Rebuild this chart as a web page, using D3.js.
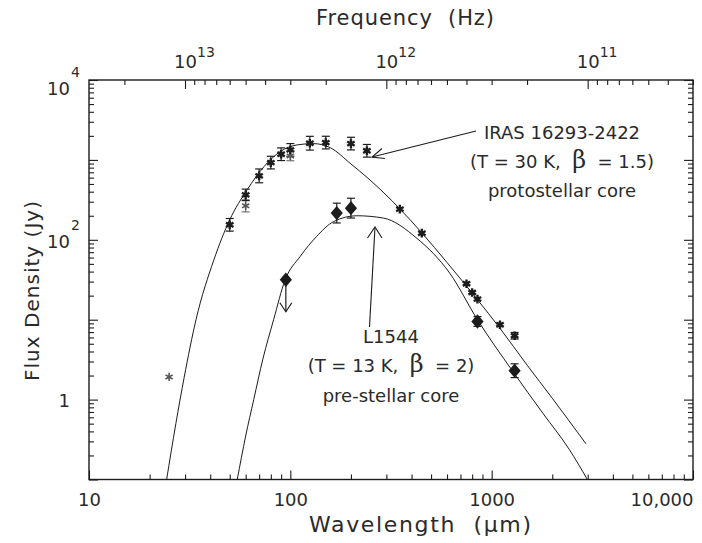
<!DOCTYPE html>
<html><head><meta charset="utf-8">
<script src="https://cdn.jsdelivr.net/npm/d3@7"></script>
<style>body{margin:0;background:#fff}</style>
</head><body>
<svg id="chart" width="702" height="543"></svg>
<script>
// ---------------- data ----------------
const irasWavelengths = [50, 60, 70, 80, 90, 100, 125, 150, 200, 240, 350, 450, 750, 800, 850, 1100, 1300];
const irasFlux        = [154, 365, 631, 925, 1178, 1334, 1617, 1647, 1600, 1300, 242, 121, 28.2, 21.9, 18.1, 8.66, 6.3];
const irasErrFactor   = [1.2, 1.18, 1.22, 1.2, 1.2, 1.2, 1.22, 1.2, 1.2, 1.2, 1, 1, 1, 1, 1, 1, 1.1];
const irasOpenWavelengths = [25, 60, 100];
const irasOpenFlux        = [1.92, 266, 1122];
const irasOpenErrFactor   = [1, 1.19, 1.15];
const l1544Wavelengths = [170, 200, 850, 1300];
const l1544Flux        = [216, 249, 9.5, 2.3];
const l1544ErrFactor   = [1.33, 1.33, 1.15, 1.22];
const l1544LimitWavelengths = [95];
const l1544LimitFlux        = [31.6];
const irasModelWavelengths = [24.3, 27, 29.7, 34, 41.7, 50, 61, 74, 89, 108, 130, 158, 200, 243, 350, 450, 600, 850, 1100, 1500, 2000, 2940];
const irasModelFlux        = [0.1, 0.5, 1.9, 10, 56, 178, 422, 824, 1270, 1540, 1600, 1420, 890, 590, 244, 122, 52, 17.8, 7.8, 2.7, 1.04, 0.28];
const l1544ModelWavelengths = [54.5, 60, 65.8, 73, 82.6, 94, 112, 135, 164, 214, 290, 424, 620, 850, 1266, 1800, 2431, 2988];
const l1544ModelFlux        = [0.1, 0.35, 1, 3.2, 10, 31, 62, 110, 169, 200, 187, 105, 38, 10, 2.3, 0.67, 0.237, 0.1];
const xTickValues = [10, 100, 1000, 10000];
const xTickLabels = ["10", "100", "1000", "10,000"];
const yTickValues = [1e4, 1e2, 1];
const yTickBase   = ["10", "10", "1"];
const yTickExp    = ["4", "2", ""];
const freqTickValues = [1e13, 1e12, 1e11];
const freqTickExp    = ["13", "12", "11"];

// ---------------- layout ----------------
const svg = d3.select("#chart");
const L = 89, R = 693, T = 80, B = 479.5;
const FONT = "DejaVu Sans";
const INK = "#1c1c1c";
const TXT = "#2a2a2a";
const C_UM = 2.998e14; // speed of light in micron/s
const SP = "\u00a0";

const x = d3.scaleLog().domain([10, 10000]).range([L, R]);
const y = d3.scaleLog().domain([0.1, 1e4]).range([B, T]);
const xf = d3.scaleLog().domain([C_UM / 10, C_UM / 10000]).range([L, R]);

function minors(lo, hi, nlo, nhi) {
  const out = [];
  for (let n = nlo; n <= nhi; n++) for (let k = 2; k <= 9; k++) {
    const v = k * Math.pow(10, n);
    if (v > lo * 1.0001 && v < hi * 0.9999) out.push(v);
  }
  return out;
}
function decades(nlo, nhi) { const o = []; for (let n = nlo; n <= nhi; n++) o.push(Math.pow(10, n)); return o; }

const defs = svg.append("defs");
defs.append("clipPath").attr("id", "plotclip").append("rect")
  .attr("x", L).attr("y", T).attr("width", R - L).attr("height", B - T);

function styleAxis(g) {
  g.select(".domain").remove();
  g.selectAll(".tick line").attr("stroke", INK).attr("stroke-width", 1.1);
  g.selectAll("text").attr("font-family", FONT).attr("fill", TXT).attr("font-size", 18);
}

// bottom axis
svg.append("g").attr("transform", `translate(0,${B})`)
  .call(d3.axisBottom(x).tickValues(minors(10, 10000, 1, 3)).tickSize(-5).tickFormat(""))
  .call(styleAxis);
const bAx = svg.append("g").attr("transform", `translate(0,${B})`)
  .call(d3.axisBottom(x).tickValues(xTickValues).tickSize(-9).tickPadding(14)
    .tickFormat((d, i) => xTickLabels[i]))
  .call(styleAxis);
bAx.selectAll(".tick text").filter((d, i) => i === xTickValues.length - 1).attr("text-anchor", "end");

// top axis (frequency)
svg.append("g").attr("transform", `translate(0,${T})`)
  .call(d3.axisTop(xf).tickValues(minors(C_UM / 10000, C_UM / 10, 10, 13)).tickSize(-5).tickFormat(""))
  .call(styleAxis);
const tAx = svg.append("g").attr("transform", `translate(0,${T})`)
  .call(d3.axisTop(xf).tickValues(freqTickValues).tickSize(-9).tickPadding(12).tickFormat(() => "10"))
  .call(styleAxis);
tAx.selectAll(".tick").each(function (d, i) {
  d3.select(this).append("text").text(freqTickExp[i])
    .attr("x", 11.5).attr("y", -23).attr("font-family", FONT).attr("font-size", 14)
    .attr("fill", TXT).attr("text-anchor", "start");
});

// left axis
svg.append("g").attr("transform", `translate(${L},0)`)
  .call(d3.axisLeft(y).tickValues(minors(0.1, 1e4, -1, 3)).tickSize(-5).tickFormat(""))
  .call(styleAxis);
svg.append("g").attr("transform", `translate(${L},0)`)
  .call(d3.axisLeft(y).tickValues(decades(-1, 4)).tickSize(-9).tickFormat(""))
  .call(styleAxis);
const lAx = svg.append("g").attr("transform", `translate(${L},0)`)
  .call(d3.axisLeft(y).tickValues(yTickValues).tickSize(0).tickPadding(19).tickFormat((d, i) => yTickBase[i]))
  .call(styleAxis);
lAx.selectAll(".tick").each(function (d, i) {
  const t = d3.select(this).select("text").attr("dy", "0.4em");
  if (i === 0) t.attr("dy", "0.83em");
  if (yTickExp[i]) {
    d3.select(this).append("text").text(yTickExp[i])
      .attr("x", -18).attr("y", i === 0 ? -4 : -10).attr("font-family", FONT).attr("font-size", 14)
      .attr("fill", TXT).attr("text-anchor", "start");
  }
});

// right axis
svg.append("g").attr("transform", `translate(${R},0)`)
  .call(d3.axisRight(y).tickValues(minors(0.1, 1e4, -1, 3)).tickSize(-5).tickFormat(""))
  .call(styleAxis);
svg.append("g").attr("transform", `translate(${R},0)`)
  .call(d3.axisRight(y).tickValues(decades(-1, 4)).tickSize(-9).tickFormat(""))
  .call(styleAxis);

// frame
svg.append("rect").attr("x", L).attr("y", T).attr("width", R - L).attr("height", B - T)
  .attr("fill", "none").attr("stroke", INK).attr("stroke-width", 1.4);

// axis titles
svg.append("text").text("Frequency" + SP + SP + "(Hz)").attr("x", 405).attr("y", 25)
  .attr("text-anchor", "middle").attr("font-family", FONT).attr("font-size", 21)
  .attr("fill", TXT).attr("textLength", 178).attr("lengthAdjust", "spacing");
svg.append("text").text("Wavelength" + SP + SP + "(\u00b5m)").attr("x", 420).attr("y", 532)
  .attr("text-anchor", "middle").attr("font-family", FONT).attr("font-size", 22)
  .attr("fill", TXT).attr("textLength", 222).attr("lengthAdjust", "spacing");
svg.append("text").text("Flux Density (Jy)").attr("transform", "translate(39,291) rotate(-90)")
  .attr("text-anchor", "middle").attr("font-family", FONT).attr("font-size", 20)
  .attr("fill", TXT).attr("textLength", 180).attr("lengthAdjust", "spacing");

// model curves
const plot = svg.append("g").attr("clip-path", "url(#plotclip)");
const line = d3.line().x(d => x(d[0])).y(d => y(d[1])).curve(d3.curveMonotoneX);
plot.append("path").datum(d3.zip(irasModelWavelengths, irasModelFlux))
  .attr("d", line).attr("fill", "none").attr("stroke", INK).attr("stroke-width", 1);
plot.append("path").datum(d3.zip(l1544ModelWavelengths, l1544ModelFlux))
  .attr("d", line).attr("fill", "none").attr("stroke", INK).attr("stroke-width", 1);

// error bars
function errBars(ws, fs, ef, color, width) {
  const data = d3.zip(ws, fs, ef).filter(d => d[2] > 1);
  const g = svg.append("g").attr("stroke", color).attr("stroke-width", width).attr("fill", "none");
  data.forEach(d => {
    const cx = x(d[0]), y1 = y(d[1] * d[2]), y0 = y(d[1] / d[2]);
    g.append("line").attr("x1", cx).attr("x2", cx).attr("y1", y1).attr("y2", y0);
    g.append("line").attr("x1", cx - 4).attr("x2", cx + 4).attr("y1", y1).attr("y2", y1);
    g.append("line").attr("x1", cx - 4).attr("x2", cx + 4).attr("y1", y0).attr("y2", y0);
  });
}
errBars(irasOpenWavelengths, irasOpenFlux, irasOpenErrFactor, "#666", 1.1);
errBars(irasWavelengths, irasFlux, irasErrFactor, INK, 1.2);
errBars(l1544Wavelengths, l1544Flux, l1544ErrFactor, INK, 1.2);

// open stars
svg.append("g").selectAll("path").data(d3.zip(irasOpenWavelengths, irasOpenFlux)).join("path")
  .attr("transform", d => `translate(${x(d[0])},${y(d[1])})`)
  .attr("d", d3.symbol().type(d3.symbolAsterisk).size(48))
  .attr("fill", "none").attr("stroke", "#555").attr("stroke-width", 1.6);
// filled stars
svg.append("g").selectAll("path").data(d3.zip(irasWavelengths, irasFlux)).join("path")
  .attr("transform", d => `translate(${x(d[0])},${y(d[1])})`)
  .attr("d", d3.symbol().type(d3.symbolAsterisk).size(52))
  .attr("fill", "none").attr("stroke", INK).attr("stroke-width", 2.4);

// diamonds
const wideDiamond = {
  draw(ctx, size) {
    const ry = Math.sqrt(size) / 2 * 1.1, rx = ry * 0.85;
    ctx.moveTo(0, -ry); ctx.lineTo(rx, 0); ctx.lineTo(0, ry); ctx.lineTo(-rx, 0); ctx.closePath();
  }
};
svg.append("g").selectAll("path")
  .data(d3.zip(l1544Wavelengths.concat(l1544LimitWavelengths), l1544Flux.concat(l1544LimitFlux))).join("path")
  .attr("transform", d => `translate(${x(d[0])},${y(d[1])})`)
  .attr("d", d3.symbol().type(wideDiamond).size(170))
  .attr("fill", INK);

// upper limit arrow
const lim = svg.append("g").attr("stroke", INK).attr("stroke-width", 1.2).attr("fill", "none");
d3.zip(l1544LimitWavelengths, l1544LimitFlux).forEach(d => {
  const cx = x(d[0]), cy = y(d[1]);
  lim.append("line").attr("x1", cx).attr("x2", cx).attr("y1", cy).attr("y2", cy + 32);
  lim.append("path").attr("d", `M${cx - 6},${cy + 23} L${cx},${cy + 32} L${cx + 6},${cy + 23}`);
});

// annotations
function label(lines, cx, baselines) {
  lines.forEach((ln, i) => {
    const t = svg.append("text").attr("x", cx).attr("y", baselines[i]).attr("text-anchor", "middle")
      .attr("font-family", FONT).attr("font-size", 18).attr("fill", TXT);
    ln.forEach(seg => {
      const s = t.append("tspan").text(seg.t);
      if (seg.big) s.attr("font-size", 24).attr("font-family", "DejaVu Serif");
    });
  });
}
label([[{t: "IRAS 16293-2422"}],
       [{t: "(T = 30 K," + SP + SP}, {t: "\u03b2", big: true}, {t: SP + SP + "= 1.5)"}],
       [{t: "protostellar core"}]], 562, [139, 168, 197]);
label([[{t: "L1544"}],
       [{t: "(T = 13 K," + SP + SP}, {t: "\u03b2", big: true}, {t: SP + SP + "= 2)"}],
       [{t: "pre-stellar core"}]], 391, [343, 372, 402]);

// annotation arrows
const ann = svg.append("g").attr("stroke", INK).attr("stroke-width", 1.1).attr("fill", "none");
ann.append("line").attr("x1", 476).attr("y1", 131).attr("x2", 372).attr("y2", 157);
ann.append("path").attr("d", "M382,148.5 L372,157 L385,158.5");
ann.append("line").attr("x1", 369.5).attr("y1", 327).attr("x2", 375).attr("y2", 227);
ann.append("path").attr("d", "M367.5,238 L375,227 L382,238");
</script>
</body></html>
